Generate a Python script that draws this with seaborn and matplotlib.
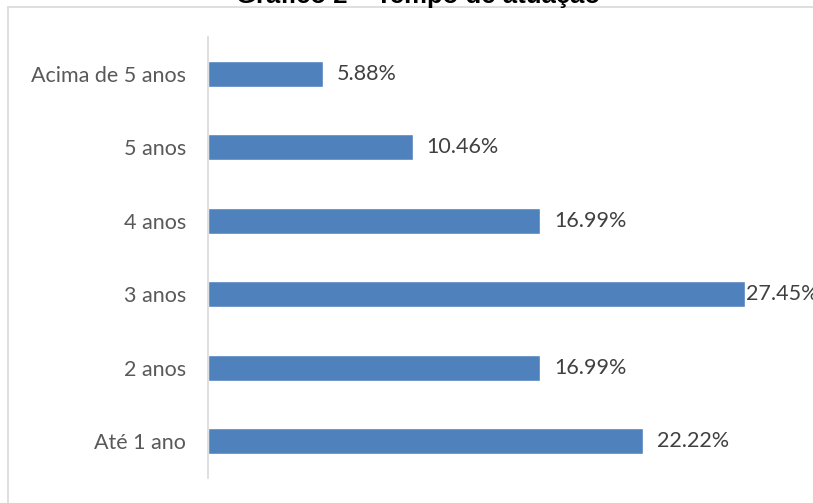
import matplotlib
matplotlib.use("Agg")
import matplotlib.pyplot as plt
import seaborn as sns
import pandas as pd
from matplotlib.lines import Line2D

categories = ["Acima de 5 anos", "5 anos", "4 anos", "3 anos", "2 anos", "Até 1 ano"]
values = [5.88, 10.46, 16.99, 27.45, 16.99, 22.22]
title = "Gráfico 2 – Tempo de atuação"

df = pd.DataFrame({"cat": categories, "val": values})

sns.set_theme(style="white")
plt.rcParams['font.family'] = ['Lato', 'DejaVu Sans']

fig = plt.figure(figsize=(8.13, 5.03), dpi=100)
ax = fig.add_axes([208/813, 1-478/503, 30*19.56/813, 441/503])

sns.barplot(data=df, x="val", y="cat", orient="h", color="#4F81BD",
            saturation=1, width=0.35, ax=ax, order=categories)

ax.set_xlim(0, 30)
ax.set_ylim(5.5, -0.5)
ax.set_xlabel("")
ax.set_ylabel("")
ax.set_xticks([])
for s in ["top", "right", "bottom"]:
    ax.spines[s].set_visible(False)
ax.spines["left"].set_color("#D9D9D9")
ax.spines["left"].set_linewidth(1.2)
ax.tick_params(axis="y", length=0, pad=16, labelsize=15.5, labelcolor="#595959")

vmax = max(values)
for i, v in enumerate(values):
    off = 0.5 if v == vmax else 10
    ax.annotate(f"{v:.2f}%", xy=(v, i), xytext=(off, 0), textcoords="offset points",
                va="center", ha="left", fontsize=15.5, color="#404040")

fig.add_artist(Line2D([8/813, 1.0], [1 - 7/503, 1 - 7/503], transform=fig.transFigure,
                      color="#D9D9D9", linewidth=1.2))
fig.add_artist(Line2D([8/813, 8/813], [0.0, 1 - 7/503], transform=fig.transFigure,
                      color="#D9D9D9", linewidth=1.2))
fig.text(418/813, 1 - 3/503, title, ha="center", va="baseline", fontsize=18.5,
         fontweight="bold", family=["Liberation Sans", "DejaVu Sans"], color="black")

fig.savefig("out.png", dpi=100)
